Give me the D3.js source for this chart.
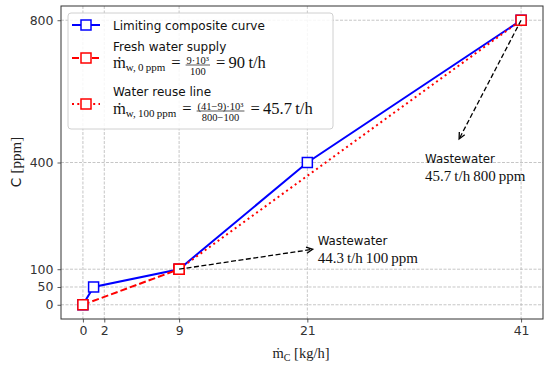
<!DOCTYPE html>
<html><head><meta charset="utf-8">
<script src="https://cdn.jsdelivr.net/npm/d3@7"></script>
<style>body{margin:0;background:#fff}svg{display:block}</style>
</head><body>
<svg id="c" width="550" height="368"></svg>
<script>
// ---- data ----
const xTicks = [0, 2, 9, 21, 41];
const yTicks = [0, 50, 100, 400, 800];
const limitingX = [0, 1, 9, 21, 41];
const limitingC = [0, 50, 100, 400, 800];
const freshX = [0, 9];
const freshC = [0, 100];
const reuseX = [9, 41];
const reuseC = [100, 800];
const annotations = [
  {from: [9, 100], to: [21.5, 156], title: "Wastewater", value: "44.3\u2009t/h\u2009100\u2009ppm"},
  {from: [41, 800], to: [35.2, 466], title: "Wastewater", value: "45.7\u2009t/h\u2009800\u2009ppm"}
];

const W = 550, H = 368;
const m = {l: 61, r: 7, t: 6, b: 49};
const svg = d3.select("#c");
const x = d3.scaleLinear().domain([-2.05, 43.05]).range([m.l, W - m.r]);
const y = d3.scaleLinear().domain([-40, 840]).range([H - m.b, m.t]);
const SANS = "DejaVu Sans, sans-serif";
const SERIF = "Liberation Serif, DejaVu Serif, serif";

// grid
const grid = svg.append("g").attr("stroke", "#b8b8b8").attr("stroke-width", 0.8).attr("stroke-dasharray", "3,1.5");
xTicks.forEach(t => grid.append("line").attr("x1", x(t)).attr("x2", x(t)).attr("y1", m.t).attr("y2", H - m.b));
yTicks.forEach(t => grid.append("line").attr("y1", y(t)).attr("y2", y(t)).attr("x1", m.l).attr("x2", W - m.r));

// axes
const ax = svg.append("g").attr("transform", `translate(0,${H - m.b})`)
  .call(d3.axisBottom(x).tickValues(xTicks).tickSize(3.5).tickPadding(4).tickFormat(d3.format("d")));
const ay = svg.append("g").attr("transform", `translate(${m.l},0)`)
  .call(d3.axisLeft(y).tickValues(yTicks).tickSize(3.5).tickPadding(4).tickFormat(d3.format("d")));
[ax, ay].forEach(a => {
  a.select(".domain").remove();
  a.selectAll(".tick line").attr("stroke", "#333").attr("stroke-width", 0.8);
  a.selectAll(".tick text").attr("fill", "#333").style("font-family", SANS).style("font-size", "12.5px");
});
svg.append("rect").attr("x", m.l).attr("y", m.t).attr("width", W - m.l - m.r).attr("height", H - m.t - m.b)
  .attr("fill", "none").attr("stroke", "#333").attr("stroke-width", 1);

// lines
const line = d3.line().x(d => x(d[0])).y(d => y(d[1]));
const zip = (a, b) => a.map((v, i) => [v, b[i]]);
const limiting = zip(limitingX, limitingC), fresh = zip(freshX, freshC), reuse = zip(reuseX, reuseC);
const BLUE = "#0000ff", RED = "#ff0000";
function marker(g, px, py, color) {
  g.append("rect").attr("x", px - 5).attr("y", py - 5).attr("width", 10).attr("height", 10)
    .attr("fill", "#fff").attr("stroke", color).attr("stroke-width", 1.5);
}
svg.append("path").datum(limiting).attr("d", line).attr("fill", "none").attr("stroke", BLUE).attr("stroke-width", 2);
limiting.forEach(d => marker(svg, x(d[0]), y(d[1]), BLUE));
svg.append("path").datum(fresh).attr("d", line).attr("fill", "none").attr("stroke", RED).attr("stroke-width", 2).attr("stroke-dasharray", "7,3");
svg.append("path").datum(reuse).attr("d", line).attr("fill", "none").attr("stroke", RED).attr("stroke-width", 2).attr("stroke-dasharray", "2,3.3");
fresh.concat(reuse).forEach(d => marker(svg, x(d[0]), y(d[1]), RED));

// annotations
annotations.forEach(a => {
  const x1 = x(a.from[0]), y1 = y(a.from[1]), x2 = x(a.to[0]), y2 = y(a.to[1]);
  svg.append("line").attr("x1", x1).attr("y1", y1).attr("x2", x2).attr("y2", y2)
    .attr("stroke", "#000").attr("stroke-width", 1.3).attr("stroke-dasharray", "5,2.5");
  const ang = Math.atan2(y2 - y1, x2 - x1), L = 7, sp = 0.45;
  const p = [ang + Math.PI - sp, ang + Math.PI + sp].map(t => [x2 + L * Math.cos(t), y2 + L * Math.sin(t)]);
  svg.append("path").attr("d", `M${p[0]}L${x2},${y2}L${p[1]}`).attr("fill", "none").attr("stroke", "#000").attr("stroke-width", 1.3);
});
const t1 = annotations[0], t2 = annotations[1];
function annText(ax0, by, a) {
  svg.append("text").attr("x", ax0).attr("y", by).text(a.title).style("font-family", SANS).style("font-size", "11.8px").attr("fill", "#111");
  svg.append("text").attr("x", ax0).attr("y", by + 17.5).text(a.value).style("font-family", SERIF).style("font-size", "15px").attr("fill", "#111");
}
annText(x(t1.to[0]) + 5, 245, t1);
annText(x(t2.to[0]) - 34, 163, t2);

// axis labels
const xl = svg.append("text").attr("x", 301).attr("y", 358).attr("text-anchor", "middle").style("font-family", SERIF).style("font-size", "14.5px").attr("fill", "#222");
xl.append("tspan").text("\u1E41");
xl.append("tspan").text("C").attr("dy", 3).style("font-size", "10px");
xl.append("tspan").text(" [kg/h]").attr("dy", -3);
const yl = svg.append("text").attr("transform", "translate(21,162) rotate(-90)").attr("text-anchor", "middle").attr("fill", "#222").style("font-size", "13.5px");
yl.append("tspan").text("C ").style("font-family", SANS);
yl.append("tspan").text("[ppm]").style("font-family", SERIF).style("font-size", "15px");

// legend
const lg = svg.append("g");
lg.append("rect").attr("x", 68).attr("y", 13).attr("width", 265).attr("height", 116).attr("rx", 3)
  .attr("fill", "#fff").attr("fill-opacity", 0.85).attr("stroke", "#d0d0d0").attr("stroke-width", 1);
function handle(cy, color, dash) {
  lg.append("line").attr("x1", 72).attr("x2", 100).attr("y1", cy).attr("y2", cy).attr("stroke", color).attr("stroke-width", 2)
    .attr("stroke-dasharray", dash);
  marker(lg, 86, cy, color);
}
handle(25, BLUE, null);
handle(58, RED, "7,3");
handle(104, RED, "2,3.3");
function ltext(xx, yy, s) {
  return lg.append("text").attr("x", xx).attr("y", yy).text(s).style("font-family", SANS).style("font-size", "12px").attr("fill", "#111");
}
ltext(113, 29.5, "Limiting composite curve");
ltext(113, 50.5, "Fresh water supply");
ltext(113, 96, "Water reuse line");

function mathRow(x0, base, items) {
  let cx = x0;
  items.forEach(it => {
    if (it.frac) {
      const gN = lg.append("text").attr("y", base - 4.5).style("font-family", SERIF).style("font-size", "10.5px").attr("fill", "#111").text(it.num);
      const gD = lg.append("text").attr("y", base + 6.5).style("font-family", SERIF).style("font-size", "10.5px").attr("fill", "#111").text(it.den);
      const wN = gN.node().getComputedTextLength(), wD = gD.node().getComputedTextLength();
      const w = Math.max(wN, wD) + 2;
      gN.attr("x", cx + (w - wN) / 2); gD.attr("x", cx + (w - wD) / 2);
      lg.append("line").attr("x1", cx).attr("x2", cx + w).attr("y1", base - 3).attr("y2", base - 3).attr("stroke", "#111").attr("stroke-width", 0.7);
      cx += w + (it.gap || 0);
    } else {
      const t = lg.append("text").attr("x", cx).attr("y", base + (it.shift || 0)).style("font-family", SERIF)
        .style("font-size", (it.size || 16.5) + "px").attr("fill", "#111").text(it.t);
      cx += t.node().getComputedTextLength() + (it.gap || 0);
    }
  });
}
mathRow(113, 68, [
  {t: "\u1E41"}, {t: "w,\u20090\u2009ppm", size: 11, shift: 3, gap: 6},
  {t: "=", gap: 5}, {frac: true, num: "9\u00B710\u00B3", den: "100", gap: 6}, {t: "=\u200990\u2009t/h"}
]);
mathRow(113, 114, [
  {t: "\u1E41"}, {t: "w,\u2009100\u2009ppm", size: 11, shift: 3, gap: 6},
  {t: "=", gap: 5}, {frac: true, num: "(41\u22129)\u00B710\u00B3", den: "800\u2212100", gap: 6}, {t: "=\u200945.7\u2009t/h"}
]);
</script>
</body></html>
